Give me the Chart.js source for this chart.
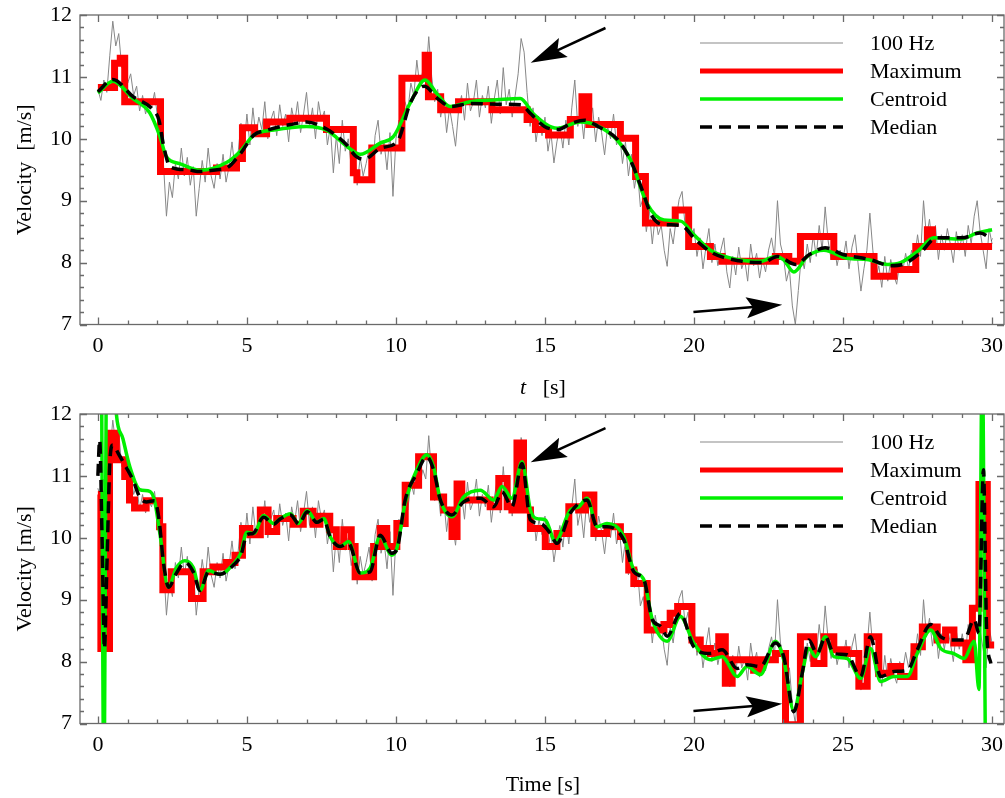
<!DOCTYPE html>
<html>
<head>
<meta charset="utf-8">
<script src="https://cdn.jsdelivr.net/npm/chart.js@4.4.1/dist/chart.umd.min.js"></script>
<style>
  body { margin: 0; background: #fff; }
  canvas { position: absolute; left: 0; }
  #top { top: 0; }
  #bottom { top: 399px; }
</style>
</head>
<body>
<canvas id="top" width="1005" height="399"></canvas>
<canvas id="bottom" width="1005" height="399"></canvas>
<script>
// raw 100 Hz velocity, every 0.1 s
var hzStep = 0.1;
var hz100 = [
  10.8, 10.62, 10.95, 10.75, 11.35, 11.9, 11.5, 11.7, 11.15, 11.3,
  10.9, 11.05, 10.7, 10.85, 10.45, 10.7, 10.4, 10.6, 10.5, 10.75,
  10.35, 10.55, 9.6, 8.75, 9.3, 9.05, 9.6, 9.35, 9.85, 9.4,
  9.7, 9.25, 9.55, 8.75, 9.2, 9.65, 9.3, 9.85, 9.4, 9.2,
  9.6, 9.35, 9.75, 9.3, 9.55, 9.95, 9.5, 9.75, 10.25, 9.85,
  10.4, 9.9, 10.5, 10.05, 10.35, 10.15, 10.6, 10.0, 10.3, 10.45,
  10.05, 10.55, 10.2, 10.4, 9.95, 10.5, 10.25, 10.6, 10.1, 10.4,
  10.75, 10.2, 10.5, 10.0, 10.6, 10.3, 10.45, 9.9, 10.2, 9.45,
  10.05, 9.6, 10.3, 9.8, 10.0, 9.55, 9.85, 9.25, 9.7, 9.4,
  9.6, 9.85, 9.3, 10.05, 10.3, 9.75, 9.95, 9.5, 10.1, 9.07,
  10.0, 10.3, 10.15, 10.6, 10.45, 10.9, 10.7, 11.27, 10.85, 11.1,
  10.95, 11.65, 11.0, 10.6, 10.8, 10.35, 10.65, 10.1, 10.5, 10.2,
  9.88, 10.45, 10.7, 10.3, 10.9, 10.45, 10.6, 10.95, 10.35, 10.7,
  10.5, 10.85, 10.25, 10.65, 10.95, 10.4, 11.15, 10.55, 10.8, 10.35,
  10.7, 11.05, 11.62, 11.4, 10.75, 10.2, 10.5, 9.95, 10.3, 10.05,
  10.35, 9.8, 10.1, 9.61, 9.95, 10.2, 9.85, 10.3, 9.9, 10.5,
  10.95, 10.2, 10.45, 10.0, 10.6, 10.25, 10.5, 9.95, 10.35, 10.1,
  9.74, 10.2, 10.0, 10.4, 9.9, 10.1, 9.6, 9.95, 9.4, 9.75,
  9.2, 9.5, 8.9, 9.05, 8.5, 8.85, 8.3, 8.75, 8.45, 8.6,
  8.2, 7.94, 8.55, 8.3, 8.7, 9.02, 9.15, 8.6, 8.8, 8.35,
  8.55, 8.1, 8.4, 7.9, 8.25, 8.55, 8.0, 8.3, 7.95, 8.2,
  8.4, 7.85, 7.59, 8.1, 7.8, 8.25, 7.9, 8.05, 7.7, 8.3,
  7.95, 8.15, 7.75, 8.05, 7.85, 8.2, 8.4, 8.1, 9.0, 8.3,
  8.1, 7.7, 7.9, 7.3, 7.0, 7.55, 8.1, 7.9, 8.3, 8.0,
  8.45, 8.1, 8.6, 8.2, 8.9, 8.35, 8.05, 8.3, 7.95, 8.2,
  8.05, 8.35, 7.9, 8.25, 8.45, 8.0, 7.54, 7.9, 8.2, 8.8,
  8.2, 7.75, 7.95, 7.6, 8.1, 7.7, 8.05, 7.8, 7.65, 8.0,
  7.85, 8.15, 7.9, 8.2, 8.05, 8.45, 8.1, 9.0, 8.4, 8.7,
  8.25, 8.6, 8.05, 8.45, 8.2, 8.55, 8.3, 8.0, 8.5, 8.2,
  8.45, 8.1, 8.6, 8.3, 8.75, 9.0, 8.5, 8.2, 7.9, 8.55,
  8.3
];

// top panel (wide window)
var topMaxT = [0, 0.56, 0.75, 0.9, 2.1, 3.98, 4.65, 4.85, 5.26, 5.66, 6.44, 7.67, 8.57, 8.69, 9.19,
  10.2, 10.98, 11.09, 11.5, 12.1, 13.22, 14.4, 14.68, 15.12, 15.85, 16.24, 16.47, 17.53, 18.04, 18.37,
  19.37, 19.82, 20.55, 20.94, 22.73, 23.18, 23.57, 24.69, 26.04, 26.71, 27.44, 27.83, 28.0, 30.0];
var topMaxV = [10.83, 11.22, 11.3, 10.6, 9.47, 9.53, 9.68, 10.18, 10.08, 10.27, 10.33, 10.15, 9.45, 9.34, 9.85,
  10.98, 11.35, 10.68, 10.47, 10.6, 10.47, 10.31, 10.15, 10.06, 10.31, 10.68, 10.23, 10.01, 9.39, 8.64,
  8.85, 8.26, 8.1, 8.02, 8.1, 8.02, 8.42, 8.1, 7.78, 7.89, 8.26, 8.53, 8.26, 8.26];

var topCenT = [0, 0.5, 1.18, 1.74, 2.08, 2.3, 2.74, 3.43, 4.33, 4.78, 5.23, 5.9, 7.0, 7.67, 8.4, 8.8, 9.47,
  9.92, 10.48, 10.98, 11.37, 11.82, 12.49, 13.39, 14.17, 14.62, 15.41, 16.19, 16.71, 17.42, 17.87, 18.43,
  18.99, 19.55, 20.0, 20.55, 21.45, 22.23, 22.73, 23.0, 23.35, 23.8, 24.36, 25.14, 25.8, 26.5, 26.93,
  27.5, 28.05, 28.95, 29.5, 30.0];
var topCenV = [10.74, 10.93, 10.65, 10.42, 10.04, 9.71, 9.6, 9.49, 9.62, 9.8, 10.06, 10.14, 10.2, 10.14, 9.86, 9.75, 9.93,
  10.04, 10.58, 10.95, 10.73, 10.52, 10.6, 10.63, 10.65, 10.4, 10.17, 10.27, 10.22, 9.98, 9.66, 8.95,
  8.69, 8.67, 8.45, 8.2, 8.05, 8.02, 8.1, 8.05, 7.85, 8.1, 8.2, 8.07, 8.05, 7.97, 8.0,
  8.18, 8.4, 8.38, 8.48, 8.53];

var topMedT = [0, 0.5, 1.18, 1.85, 2.05, 2.2, 2.42, 3.0, 3.43, 4.0, 4.33, 4.78, 5.23, 5.68, 6.46, 7.0, 7.7,
  8.0, 8.35, 8.65, 8.93, 9.49, 10.05, 10.5, 10.95, 11.4, 11.85, 12.5, 13.4, 14.19, 14.53, 14.98, 15.43,
  15.88, 16.33, 16.78, 17.45, 17.9, 18.24, 18.57, 18.9, 19.57, 20.05, 20.6, 21.5, 22.3, 22.8, 23.42,
  23.87, 24.4, 25.0, 25.9, 26.6, 27.0, 27.6, 28.13, 29.0, 29.6, 30.0];
var topMedV = [10.76, 10.96, 10.68, 10.47, 10.3, 9.9, 9.55, 9.5, 9.47, 9.5, 9.53, 9.76, 10.06, 10.14, 10.23, 10.27, 10.15,
  10.05, 9.9, 9.72, 9.67, 9.85, 9.96, 10.6, 10.85, 10.65, 10.52, 10.57, 10.56, 10.55, 10.4, 10.2, 10.15,
  10.25, 10.3, 10.2, 9.98, 9.62, 9.2, 8.77, 8.62, 8.6, 8.37, 8.16, 8.03, 8.0, 8.1, 7.97,
  8.13, 8.24, 8.13, 8.05, 7.95, 7.97, 8.16, 8.4, 8.4, 8.48, 8.37];

// bottom panel (short window)
var botMaxT = [0, 0.1, 0.39, 0.62, 0.9, 1.06, 1.23, 1.62, 2.07, 2.18,
  2.46, 3.14, 3.53, 3.86, 4.3, 4.6, 4.85, 5.1, 5.45, 5.71,
  6.0, 6.55, 6.89, 7.22, 7.45, 7.78, 8.0, 8.25, 8.5, 8.63,
  9.25, 9.47, 9.69, 10.03, 10.31, 10.76, 11.26, 11.6, 11.88, 12.05,
  12.21, 13.16, 13.45, 13.73, 13.89, 14.06, 14.28, 14.51, 15.01, 15.4,
  15.8, 16.13, 16.36, 16.64, 17.08, 17.53, 17.81, 17.98, 18.43, 18.99,
  19.2, 19.45, 19.93, 20.21, 20.55, 20.83, 21.05, 21.28, 22.0, 22.23,
  22.73, 23.07, 23.57, 24.02, 24.36, 24.69, 25.14, 25.53, 25.81, 26.2,
  26.6, 26.93, 27.38, 27.66, 28.16, 28.44, 28.72, 29.12, 29.34, 29.56,
  29.84, 30.07];
var botMaxV = [10.7, 8.21, 11.69, 11.26, 10.99, 10.61, 10.48, 10.6, 10.18, 9.16,
  9.45, 9.02, 9.45, 9.53, 9.6, 9.72, 10.15, 10.05, 10.45, 10.1,
  10.31, 10.22, 10.43, 10.22, 10.35, 10.13, 9.86, 10.13, 9.86, 9.37,
  9.86, 10.15, 9.86, 10.23, 10.85, 11.31, 10.66, 10.45, 10.02, 10.87,
  10.61, 10.5, 10.96, 10.5, 10.45, 11.53, 10.45, 10.15, 9.86, 10.07,
  10.5, 10.45, 10.69, 10.07, 10.18, 10.02, 9.48, 9.26, 8.51, 8.6,
  8.78, 8.89, 8.35, 8.21, 8.13, 8.4, 7.65, 8.03, 7.86, 8.03,
  8.13, 6.98, 8.4, 7.97, 8.4, 8.19, 8.13, 7.6, 8.4, 7.81,
  7.92, 7.76, 8.24, 8.56, 8.35, 8.51, 8.3, 8.03, 8.86, 10.86,
  8.27, 8.27];

var botCenT = [0.12, 0.2, 0.3, 0.5, 0.62, 0.84, 1.07, 1.4, 1.74, 1.9,
  2.08, 2.36, 2.64, 2.92, 3.2, 3.43, 3.71, 4.1, 4.55, 4.78,
  5.0, 5.23, 5.56, 5.9, 6.12, 6.46, 6.72, 7.02, 7.35, 7.58,
  7.79, 8.13, 8.41, 8.8, 9.13, 9.47, 9.86, 10.03, 10.31, 10.7,
  11.04, 11.26, 11.49, 11.88, 12.27, 12.83, 13.28, 13.56, 13.89, 14.23,
  14.51, 14.73, 15.01, 15.35, 15.85, 16.13, 16.41, 16.75, 17.08, 17.64,
  17.98, 18.32, 18.6, 19.1, 19.54, 19.99, 20.55, 20.94, 21.45, 21.78,
  22.23, 22.73, 23.01, 23.35, 23.63, 23.85, 24.08, 24.41, 24.69, 25.14,
  25.59, 25.92, 26.26, 26.71, 27.16, 27.49, 27.94, 28.28, 28.72, 29.06,
  29.4, 29.56, 29.67, 29.8, 29.9];
var botCenV = [13, 6, 13, 13, 12.0, 11.6, 11.15, 10.78, 10.75, 10.6,
  10.07, 9.2, 9.52, 9.63, 9.52, 9.15, 9.47, 9.41, 9.58, 9.74,
  10.09, 10.07, 10.36, 10.23, 10.31, 10.39, 10.23, 10.44, 10.25, 10.31,
  10.02, 9.86, 9.94, 9.43, 9.51, 10.02, 9.72, 9.83, 10.56, 11.1,
  11.34, 11.15, 10.61, 10.34, 10.66, 10.77, 10.61, 10.83, 10.64, 11.23,
  10.45, 10.31, 10.29, 9.94, 10.45, 10.5, 10.64, 10.18, 10.23, 10.02,
  9.48, 9.32, 8.68, 8.33, 8.73, 8.3, 8.03, 8.08, 7.76, 7.92,
  7.79, 8.33, 8.03, 7.2, 7.81, 8.21, 8.08, 8.4, 8.08, 8.05,
  7.73, 8.21, 7.68, 7.76, 7.76, 8.13, 8.51, 8.21, 8.13, 8.05,
  8.33, 7.55, 13, 6, 6];

var botMedT = [0, 0.06, 0.14, 0.22, 0.3, 0.4, 0.5, 0.7, 0.84, 1.18,
  1.4, 1.62, 1.9, 2.05, 2.2, 2.38, 2.6, 2.92, 3.2, 3.43,
  3.71, 4.1, 4.55, 4.8, 5.0, 5.2, 5.56, 5.9, 6.1, 6.46,
  6.75, 7.02, 7.35, 7.58, 7.79, 8.13, 8.41, 8.8, 9.13, 9.47,
  9.86, 10.03, 10.31, 10.7, 11.04, 11.26, 11.49, 11.88, 12.27, 12.83,
  13.28, 13.56, 13.89, 14.23, 14.51, 14.85, 15.18, 15.4, 15.85, 16.41,
  16.75, 17.08, 17.64, 17.98, 18.32, 18.6, 18.88, 19.1, 19.54, 19.99,
  20.55, 20.94, 21.45, 21.78, 22.23, 22.73, 23.01, 23.35, 23.63, 23.85,
  24.13, 24.41, 24.69, 25.14, 25.59, 25.92, 26.26, 26.71, 27.16, 27.49,
  27.94, 28.28, 28.72, 29.06, 29.4, 29.56, 29.71, 29.82, 29.96];
var botMedV = [11.0, 11.58, 10.0, 8.21, 9.5, 11.2, 11.5, 11.35, 11.23, 10.93,
  10.66, 10.58, 10.6, 10.3, 9.6, 9.2, 9.4, 9.6, 9.45, 9.15,
  9.45, 9.41, 9.56, 9.72, 10.05, 10.07, 10.33, 10.22, 10.3, 10.37,
  10.22, 10.42, 10.25, 10.3, 10.02, 9.86, 9.91, 9.43, 9.45, 10.04,
  9.75, 9.81, 10.61, 11.04, 11.31, 11.1, 10.61, 10.37, 10.58, 10.64,
  10.5, 10.74, 10.5, 11.2, 10.29, 10.23, 10.07, 9.91, 10.4, 10.61,
  10.18, 10.18, 9.97, 9.45, 9.32, 8.68, 8.57, 8.41, 8.78, 8.24,
  8.13, 8.19, 7.89, 7.95, 7.92, 8.3, 8.08, 7.19, 7.81, 8.35,
  8.13, 8.4, 8.13, 8.11, 7.76, 8.4, 7.76, 7.84, 7.86, 8.19,
  8.6, 8.4, 8.35, 8.35, 8.68, 8.46, 11.1, 8.46, 7.97];

var xTicks = [0, 5, 10, 15, 20, 25, 30];
var xTickLabels = ["0", "5", "10", "15", "20", "25", "30"];
var yTicks = [7, 8, 9, 10, 11, 12];
var yTickLabels = ["7", "8", "9", "10", "11", "12"];

var FONT = "Liberation Serif";
Chart.defaults.font.family = FONT;

function series(ts, vs) {
    return ts.map(function(t, i){ return {x: t, y: vs[i]}; });
}
var hzTimes = hz100.map(function(v, i){ return i * hzStep; });

function makeDatasets(maxT, maxV, cenT, cenV, medT, medV) {
    var base = {showLine: true, pointRadius: 0, fill: false, clip: 0};
    return [
        Object.assign({label: "100 Hz", data: series(hzTimes, hz100), borderColor: "#878787",
            borderWidth: 1, order: 4, legendColor: "#b0b0b0", legendWidth: 1.5}, base),
        Object.assign({label: "Maximum", data: series(maxT, maxV), borderColor: "#ff0000",
            borderWidth: 7, stepped: "before", borderJoinStyle: "miter", order: 3, legendWidth: 5}, base),
        Object.assign({label: "Centroid", data: series(cenT, cenV), borderColor: "#00f000",
            borderWidth: 3.5, cubicInterpolationMode: "monotone", order: 2, legendWidth: 3.5}, base),
        Object.assign({label: "Median", data: series(medT, medV), borderColor: "#000000",
            borderWidth: 3.5, borderDash: [12, 7], cubicInterpolationMode: "monotone", order: 1, legendWidth: 3.5}, base)
    ];
}

function drawArrow(ctx, x0, y0, x1, y1) {
    var dx = x1 - x0, dy = y1 - y0;
    var len = Math.sqrt(dx*dx + dy*dy);
    var ux = dx/len, uy = dy/len, nx = -uy, ny = ux;
    var L = 36, W = 10.5;
    ctx.strokeStyle = "#000"; ctx.fillStyle = "#000"; ctx.lineWidth = 2.5;
    ctx.beginPath();
    ctx.moveTo(x0, y0);
    ctx.lineTo(x1 - ux*L*0.8, y1 - uy*L*0.8);
    ctx.stroke();
    ctx.beginPath();
    ctx.moveTo(x1, y1);
    ctx.lineTo(x1 - ux*L + nx*W, y1 - uy*L + ny*W);
    ctx.lineTo(x1 - ux*L*0.82, y1 - uy*L*0.82);
    ctx.lineTo(x1 - ux*L - nx*W, y1 - uy*L - ny*W);
    ctx.closePath();
    ctx.fill();
}

var framePlugin = {
    id: "frame",
    afterDatasetsDraw: function(chart, args, opts) {
        var ctx = chart.ctx, a = chart.chartArea;
        var xs = chart.scales.x, ys = chart.scales.y;
        ctx.save();
        // frame and inward ticks
        ctx.strokeStyle = "#6a6a6a";
        ctx.lineWidth = 1.3;
        ctx.strokeRect(a.left, a.top, a.right - a.left, a.bottom - a.top);
        ctx.beginPath();
        for (var t = 0; t <= 30; t++) {
            var px = Math.round(xs.getPixelForValue(t)) + 0.5;
            var tl = (t % 5 === 0) ? 7 : 4;
            ctx.moveTo(px, a.bottom); ctx.lineTo(px, a.bottom - tl);
            ctx.moveTo(px, a.top); ctx.lineTo(px, a.top + tl);
        }
        for (var k = 35; k <= 60; k++) {
            var py = Math.round(ys.getPixelForValue(k / 5)) + 0.5;
            var yl = (k % 5 === 0) ? 7 : 4;
            ctx.moveTo(a.left, py); ctx.lineTo(a.left + yl, py);
            ctx.moveTo(a.right, py); ctx.lineTo(a.right - yl, py);
        }
        ctx.stroke();

        // legend
        var lx0 = 700, lx1 = 843, ly = 43, step = 28;
        ctx.font = "22px " + FONT;
        ctx.textBaseline = "middle";
        ctx.textAlign = "left";
        chart.data.datasets.forEach(function(ds, i) {
            var yy = ly + i*step;
            ctx.beginPath();
            ctx.strokeStyle = ds.legendColor || ds.borderColor;
            ctx.lineWidth = ds.legendWidth;
            ctx.setLineDash(ds.borderDash || []);
            ctx.moveTo(lx0, yy); ctx.lineTo(lx1, yy);
            ctx.stroke();
            ctx.setLineDash([]);
            ctx.fillStyle = "#000";
            ctx.fillText(ds.label, 870, yy + 1);
        });

        // arrows (annotation positions in data units)
        opts.arrows.forEach(function(ar) {
            drawArrow(ctx, xs.getPixelForValue(ar[0]), ys.getPixelForValue(ar[1]),
                xs.getPixelForValue(ar[2]), ys.getPixelForValue(ar[3]));
        });

        // axis titles
        ctx.fillStyle = "#000";
        ctx.textBaseline = "middle";
        var cx = 543;
        var ty = a.bottom + opts.xTitleGap;
        if (opts.xItalic) {
            ctx.font = "italic 22px " + FONT;
            var w1 = ctx.measureText(opts.xItalic).width;
            ctx.font = "22px " + FONT;
            var w2 = ctx.measureText(opts.xTitle).width;
            var sx = cx - (w1 + w2) / 2;
            ctx.textAlign = "left";
            ctx.font = "italic 22px " + FONT;
            ctx.fillText(opts.xItalic, sx, ty);
            ctx.font = "22px " + FONT;
            ctx.fillText(opts.xTitle, sx + w1, ty);
        } else {
            ctx.textAlign = "center";
            ctx.font = "22px " + FONT;
            ctx.fillText(opts.xTitle, cx, ty);
        }
        ctx.translate(25, (a.top + a.bottom) / 2);
        ctx.rotate(-Math.PI / 2);
        ctx.textAlign = "center";
        ctx.fillText(opts.yTitle, 0, 0);
        ctx.restore();
    }
};

function makeChart(id, datasets, frameOpts) {
    return new Chart(document.getElementById(id), {
        type: "scatter",
        data: {datasets: datasets},
        plugins: [framePlugin],
        options: {
            responsive: false,
            animation: false,
            devicePixelRatio: 1,
            layout: {padding: {top: 15, right: 1, left: 0, bottom: 0}},
            plugins: {
                legend: {display: false},
                tooltip: {enabled: false},
                frame: frameOpts
            },
            scales: {
                x: {
                    type: "linear", min: -0.6, max: 30.4,
                    afterFit: function(s){ s.height = 74.5; s.paddingLeft = 0; s.paddingRight = 0; },
                    afterBuildTicks: function(s){ s.ticks = xTicks.map(function(v){ return {value: v}; }); },
                    grid: {display: false, drawTicks: false},
                    border: {display: false},
                    ticks: {padding: 9, color: "#000", font: {size: 22}, maxRotation: 0, autoSkip: false,
                        callback: function(v, i){ return xTickLabels[i]; }}
                },
                y: {
                    type: "linear", min: 7, max: 12,
                    afterFit: function(s){ s.width = 80; s.paddingTop = 0; s.paddingBottom = 0; },
                    afterBuildTicks: function(s){ s.ticks = yTicks.map(function(v){ return {value: v}; }); },
                    grid: {display: false, drawTicks: false},
                    border: {display: false},
                    ticks: {padding: 8, color: "#000", font: {size: 22}, autoSkip: false,
                        callback: function(v, i){ return yTickLabels[i]; }}
                }
            }
        }
    });
}

makeChart("top", makeDatasets(topMaxT, topMaxV, topCenT, topCenV, topMedT, topMedV), {
    xItalic: "t", xTitle: "   [s]", yTitle: "Velocity  [m/s]", xTitleGap: 63.5,
    arrows: [[17.03, 11.79, 14.52, 11.23], [19.98, 7.2, 22.96, 7.32]]
});
makeChart("bottom", makeDatasets(botMaxT, botMaxV, botCenT, botCenV, botMedT, botMedV), {
    xTitle: "Time [s]", yTitle: "Velocity [m/s]", xTitleGap: 61.5,
    arrows: [[17.03, 11.77, 14.52, 11.22], [19.98, 7.2, 22.96, 7.32]]
});
</script>
</body>
</html>
